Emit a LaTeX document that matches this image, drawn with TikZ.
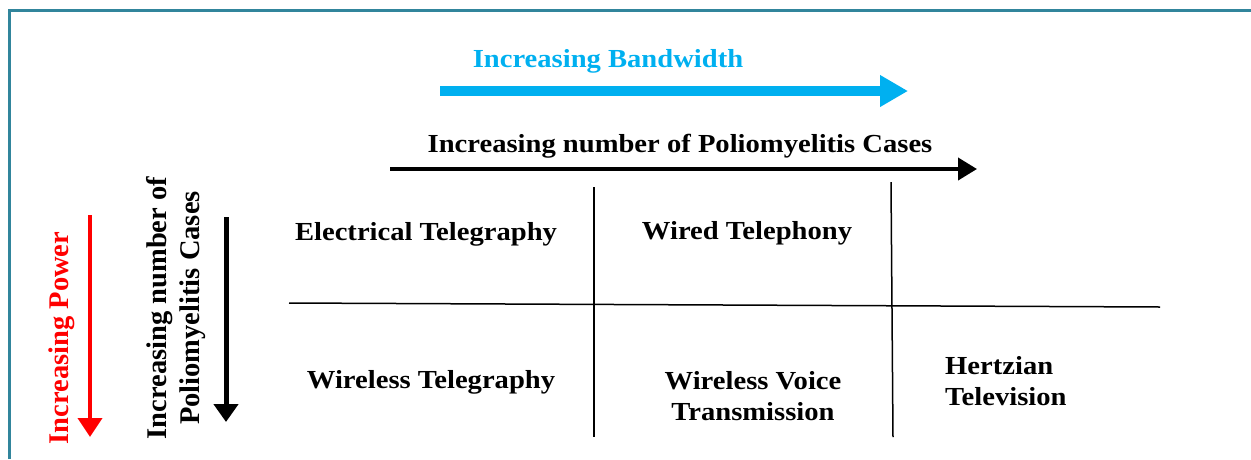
\documentclass[tikz,border=0pt]{standalone}
\usepackage{fontspec}
\setmainfont{Liberation Serif}
\newfontfamily\widefont[FakeStretch=1.1]{Liberation Serif}
\usetikzlibrary{arrows.meta}
\definecolor{framecol}{RGB}{49,133,156}
\definecolor{bwcol}{RGB}{0,176,240}
\begin{document}
\begin{tikzpicture}[x=1pt,y=-1pt]
\tikzset{cell/.style={font=\widefont\fontsize{26}{31}\selectfont\bfseries, align=center, inner sep=0pt},
  sidelabel/.style={font=\fontsize{28.5}{33}\selectfont\bfseries, align=center, inner sep=0pt, rotate=90},
  grid/.style={line width=1.5pt},
  fatarrow/.style={line width=4pt, -{Triangle[length=19pt,width=22pt]}}}
\useasboundingbox (0,0) rectangle (1251,459);
\draw[framecol, line width=2.5pt] (9.5,459) -- (9.5,10.5) -- (1251,10.5);
\node[cell, text=bwcol] (BW) at (608,61) {Increasing Bandwidth};
\coordinate (BW1) at (440,91);
\coordinate (BW2) at (908,91);
\draw[bwcol, line width=10pt, -{Triangle[length=28pt,width=30pt]}] (BW1) -- (BW2);
\node[cell] (PH) at (680,146) {Increasing number of Poliomyelitis Cases};
\coordinate (PH1) at (390,169);
\coordinate (PH2) at (977,169);
\draw[fatarrow] (PH1) -- (PH2);
\node[sidelabel, text=red] (PW) at (62,338) {Increasing Power};
\coordinate (PW1) at (90,215);
\coordinate (PW2) at (90,437);
\draw[red, fatarrow, -{Triangle[length=19pt,width=24pt]}] (PW1) -- (PW2);
\node[sidelabel] (PV) at (176,308) {Increasing number of\\Poliomyelitis Cases};
\coordinate (PV1) at (226,217);
\coordinate (PV2) at (226,422);
\draw[fatarrow, line width=5pt, -{Triangle[length=18pt,width=24pt]}] (PV1) -- (PV2);
\coordinate (G1) at (594,187);
\coordinate (G2) at (594,437);
\coordinate (G3) at (891,182);
\coordinate (G4) at (893,437);
\coordinate (G5) at (289,303);
\coordinate (G6) at (1160,307);
\draw[grid] (G1) -- (G2);
\draw[grid] (G3) -- (G4);
\draw[grid] (G5) -- (G6);
\node[cell] (ET) at (426,234) {Electrical Telegraphy};
\node[cell] (WP) at (747,233) {Wired Telephony};
\node[cell] (WT) at (431,382) {Wireless Telegraphy};
\node[cell] (WV) at (753,396) {Wireless Voice\\Transmission};
\node[cell, align=left, anchor=west] (HT) at (945,381) {Hertzian\\Television};
\end{tikzpicture}
\end{document}
